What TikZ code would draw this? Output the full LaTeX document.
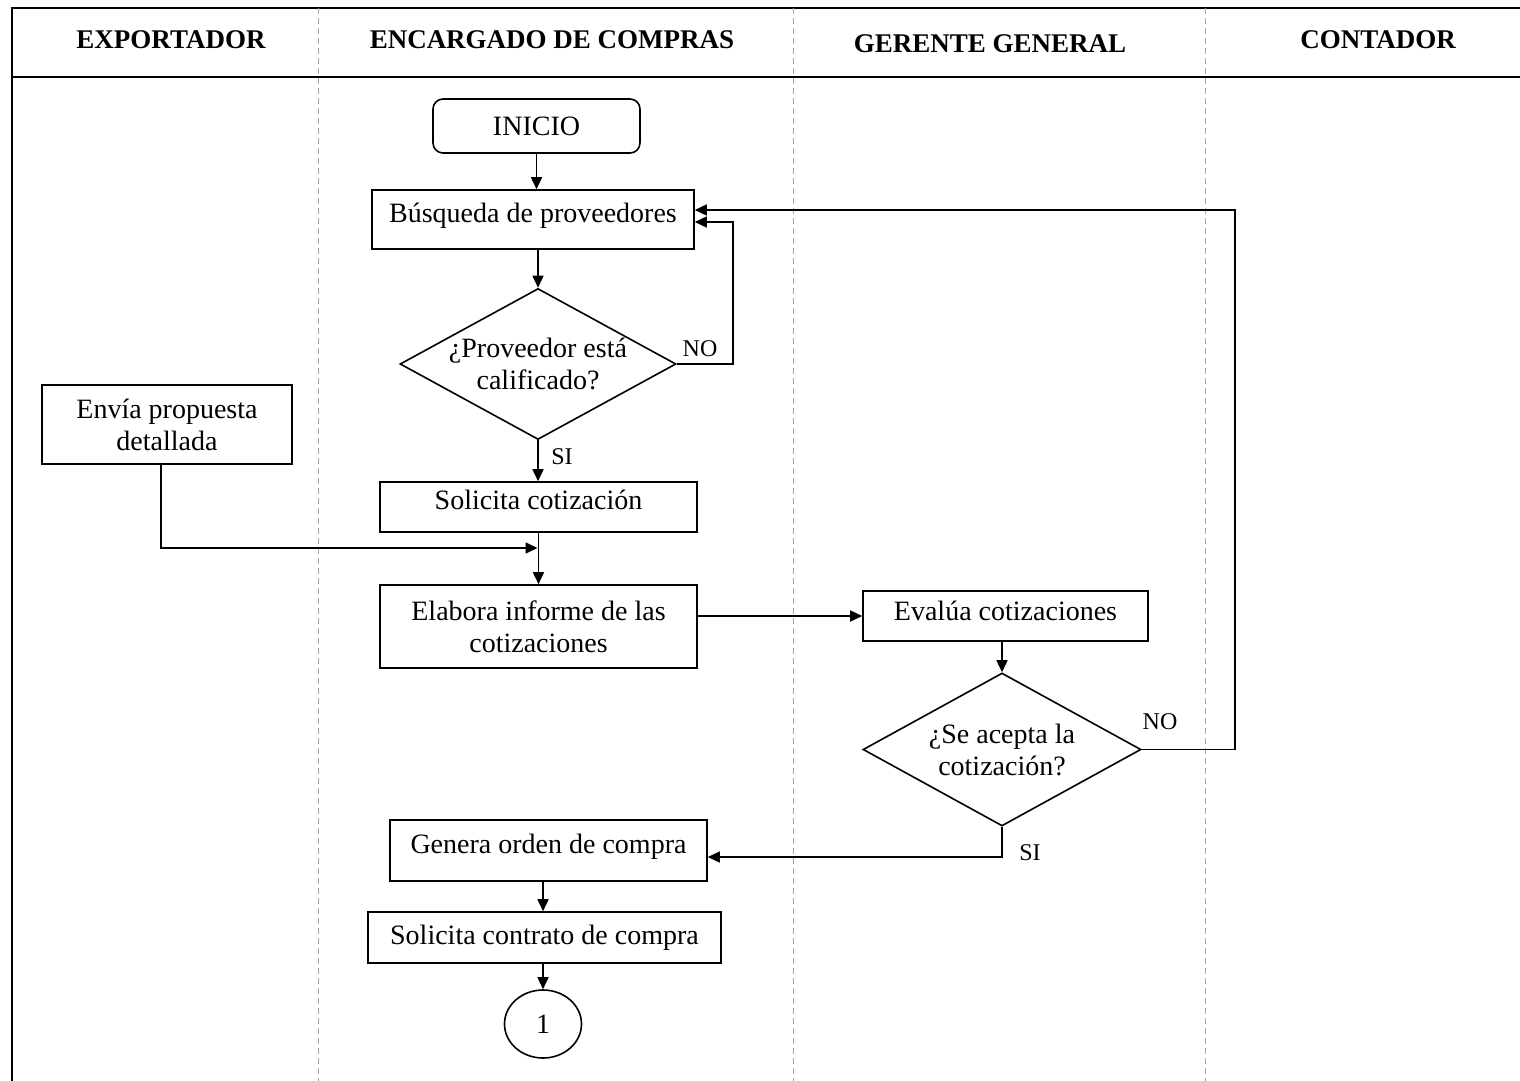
\documentclass[tikz,border=0pt]{standalone}
\usepackage{fontspec}
\setmainfont{Liberation Serif}
\usetikzlibrary{shapes.geometric,arrows.meta,calc}
\begin{document}
\begin{tikzpicture}[x=0.5pt,y=-0.5pt,
  every node/.style={font=\fontsize{14}{16}\selectfont},
  box/.style={draw,line width=0.8pt,inner sep=2pt,align=center},
  oneline/.style={box,text height=10pt,text depth=7.5pt},
  dec/.style={draw,line width=0.8pt,diamond,inner sep=0pt,align=center,aspect=1.83},
  hdr/.style={font=\fontsize{13.5}{16}\selectfont\bfseries},
  lbl/.style={font=\fontsize{12}{14}\selectfont},
  lane/.style={draw=gray!70,line width=0.5pt,dash pattern=on 3pt off 2pt},
  frame/.style={line width=1pt},
  arr/.style={line width=0.8pt,-{Triangle[length=6pt,width=5.5pt]}},
  ln/.style={line width=0.8pt}]
\useasboundingbox (0,0) rectangle (1520,1081);
% frame and lanes
\draw[frame] (1520,8) -- (12,8) -- (12,1081);
\draw[frame] (12,77) -- (1520,77);
\foreach \x in {318,793,1205} \draw[lane] (\x,8) -- (\x,1081);
% headers
\node[hdr] (h1) at (171,40) {EXPORTADOR};
\node[hdr] (h2) at (552,40) {ENCARGADO DE COMPRAS};
\node[hdr] (h3) at (990,44) {GERENTE GENERAL};
\node[hdr] (h4) at (1378,40) {CONTADOR};
% nodes
\node[box,rounded corners=5pt,minimum width=103.5pt,minimum height=27pt] (inicio) at (536.5,126) {INICIO};
\node[oneline,minimum width=161pt,minimum height=29.5pt] (busq) at (533,219.5) {Búsqueda de proveedores};
\node[dec,minimum width=138pt,minimum height=75.5pt] (dec1) at (538,364) {¿Proveedor está\\calificado?};
\node[box,minimum width=125pt,minimum height=39.5pt] (envia) at (167,424.5) {Envía propuesta\\detallada};
\node[oneline,minimum width=158.5pt,minimum height=25pt] (solc) at (538.5,507) {Solicita cotización};
\node[box,minimum width=158.5pt,minimum height=41.5pt] (elab) at (538.5,626.5) {Elabora informe de las\\cotizaciones};
\node[box,text height=10pt,text depth=6pt,minimum width=142.5pt,minimum height=25pt] (eval) at (1005.5,616) {Evalúa cotizaciones};
\node[dec,minimum width=139pt,minimum height=76.5pt] (dec2) at (1002,749.5) {¿Se acepta la\\cotización?};
\node[oneline,minimum width=158.5pt,minimum height=30.5pt] (genera) at (548.5,850.5) {Genera orden de compra};
\node[box,minimum width=176.5pt,minimum height=25.5pt] (contrato) at (544.5,937.5) {Solicita contrato de compra};
\node[draw,line width=0.8pt,ellipse,inner sep=0pt,minimum width=38.5pt,minimum height=34pt] (conn) at (543,1024) {1};
% labels
\node[lbl] (no1) at (700,349) {NO};
\node[lbl] (si1) at (562,457) {SI};
\node[lbl] (no2) at (1160,722) {NO};
\node[lbl] (si2) at (1030,853) {SI};
% helper coordinates
\coordinate (loop1) at (733,0);
\coordinate (loop2) at (1235,0);
\coordinate (join) at (537.5,548);
% connectors
\draw[arr] (inicio.south) -- (inicio.south |- busq.north);
\draw[arr] (dec1.north |- busq.south) -- (dec1.north);
\draw[arr] (dec1.east) -- (dec1.east -| loop1) |- ($(busq.east)+(0,2.5)$);
\draw[arr] (dec2.east) -- (dec2.east -| loop2) |- ($(busq.east)+(0,-9.5)$);
\draw[arr] (dec1.south) -- (dec1.south |- solc.north);
\draw[arr] ($(envia.south)+(-6,0)$) |- (join);
\draw[arr] (solc.south) -- (solc.south |- elab.north);
\draw[arr] (elab.east |- eval.west) -- (eval.west);
\draw[arr] (dec2.north |- eval.south) -- (dec2.north);
\draw[arr] (dec2.south) |- ($(genera.east)+(0,6.5)$);
\draw[arr] (conn.north |- genera.south) -- (conn.north |- contrato.north);
\draw[arr] (conn.north |- contrato.south) -- (conn.north);
\end{tikzpicture}
\end{document}
